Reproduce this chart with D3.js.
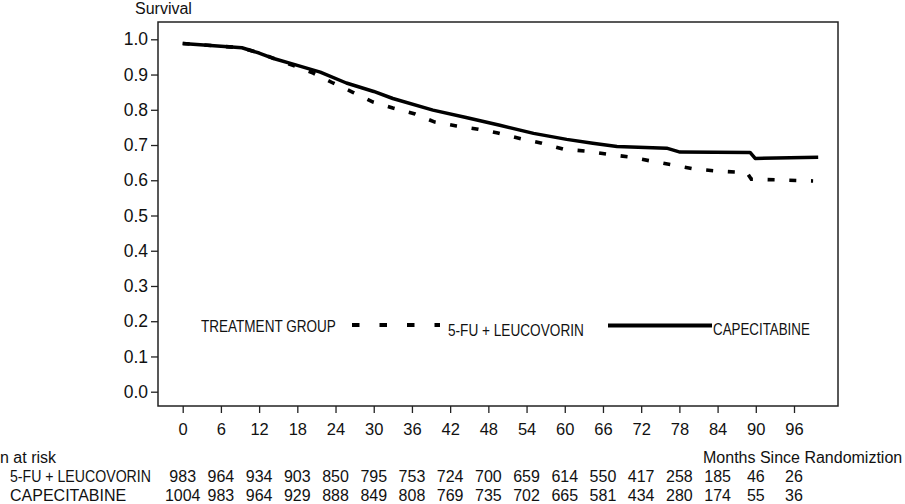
<!DOCTYPE html>
<html>
<head>
<meta charset="utf-8">
<script src="https://cdn.jsdelivr.net/npm/d3@7"></script>
<style>
	body { margin: 0; background: white; }
	svg { display: block; font-family: "Liberation Sans", Arial, sans-serif; }
</style>
</head>
<body>
<div id="container"></div>
<script>
// tick labels
const monthTicks = [0, 6, 12, 18, 24, 30, 36, 42, 48, 54, 60, 66, 72, 78, 84, 90, 96];
const survTicks = [0, 0.1, 0.2, 0.3, 0.4, 0.5, 0.6, 0.7, 0.8, 0.9, 1.0];

// capecitabine curve (solid)
const capMonths = [0, 9.3, 12, 14, 18, 21.6, 25.7, 30, 33, 39.3, 44.5, 49.8, 55.1, 60.3, 64.4, 68.2, 76, 78.1, 89.1, 89.9, 99.8];
const capSurv   = [0.988, 0.976, 0.961, 0.947, 0.926, 0.907, 0.876, 0.852, 0.832, 0.799, 0.778, 0.756, 0.733, 0.716, 0.705, 0.696, 0.691, 0.680, 0.679, 0.662, 0.665];

// 5-FU + leucovorin curve (dashed)
const fuMonths = [0, 9.3, 12, 14, 17.3, 20.5, 23.6, 26.8, 29.9, 33, 36.5, 39.6, 43, 46.4, 49.5, 53.3, 56.4, 59.8, 63.2, 66.6, 70.2, 73.7, 77, 80.4, 83.9, 87.2, 88.6, 89.3, 93.8, 99];
const fuSurv   = [0.988, 0.976, 0.961, 0.948, 0.926, 0.904, 0.876, 0.849, 0.822, 0.805, 0.788, 0.765, 0.754, 0.745, 0.734, 0.717, 0.705, 0.688, 0.683, 0.674, 0.666, 0.654, 0.643, 0.632, 0.626, 0.623, 0.622, 0.603, 0.601, 0.598];

// number at risk
const riskGroups = ['5-FU + LEUCOVORIN', 'CAPECITABINE'];
const riskFu  = [983, 964, 934, 903, 850, 795, 753, 724, 700, 659, 614, 550, 417, 258, 185, 46, 26];
const riskCap = [1004, 983, 964, 929, 888, 849, 808, 769, 735, 702, 665, 581, 434, 280, 174, 55, 36];

const W = 905, H = 504;
const BOX = {left: 158, top: 22, right: 838, bottom: 406};

const svg = d3.select('#container').append('svg')
	.attr('width', W)
	.attr('height', H);

const x = d3.scaleLinear().domain([0, 96]).range([182.7, 794]);
const y = d3.scaleLinear().domain([0, 1]).range([391.7, 39.3]);

// frame
svg.append('rect')
	.attr('x', BOX.left)
	.attr('y', BOX.top)
	.attr('width', BOX.right - BOX.left)
	.attr('height', BOX.bottom - BOX.top)
	.attr('fill', 'none')
	.attr('stroke', '#222')
	.attr('stroke-width', 1.5);

const yAxis = svg.append('g')
	.attr('transform', `translate(${BOX.left},0)`)
	.call(d3.axisLeft(y).tickValues(survTicks).tickFormat(d3.format('.1f')).tickSize(7).tickPadding(3));
const xAxis = svg.append('g')
	.attr('transform', `translate(0,${BOX.bottom})`)
	.call(d3.axisBottom(x).tickValues(monthTicks).tickSize(7).tickPadding(10));

[xAxis, yAxis].forEach(ax => {
	ax.select('.domain').remove();
	ax.selectAll('.tick line').attr('stroke', '#222').attr('stroke-width', 1.3);
	ax.selectAll('.tick text')
		.attr('fill', '#111')
		.style('font-family', '"Liberation Sans", Arial, sans-serif');
});
xAxis.selectAll('.tick text').style('font-size', '16.5px');
yAxis.selectAll('.tick text').style('font-size', '17.5px');

svg.append('text')
	.attr('x', 135)
	.attr('y', 14)
	.style('font-size', '16px')
	.attr('fill', '#111')
	.text('Survival');

// curves
const line = d3.line().x(d => x(d[0])).y(d => y(d[1]));

svg.append('path')
	.datum(d3.zip(fuMonths, fuSurv))
	.attr('d', line)
	.attr('fill', 'none')
	.attr('stroke', '#000')
	.attr('stroke-width', 3.6)
	.attr('stroke-dasharray', '7,14.7');

svg.append('path')
	.datum(d3.zip(capMonths, capSurv))
	.attr('d', line)
	.attr('fill', 'none')
	.attr('stroke', '#000')
	.attr('stroke-width', 3.5)
	.attr('stroke-linejoin', 'round');

// the original uses a narrow face: squeeze regular glyphs horizontally to the same width
function narrowText(g, tx, ty, str, width, size) {
	const t = g.append('text')
		.style('font-size', size + 'px')
		.attr('fill', '#111')
		.text(str);
	const k = width / t.node().getComputedTextLength();
	t.attr('transform', `translate(${tx},${ty}) scale(${k},1)`);
	return t;
}

// legend
const legend = svg.append('g');
narrowText(legend, 201, 332, 'TREATMENT GROUP', 135, 16.5);
legend.append('line')
	.attr('x1', 352).attr('x2', 440).attr('y1', 325).attr('y2', 325)
	.attr('stroke', '#000').attr('stroke-width', 4)
	.attr('stroke-dasharray', '7.5,20');
narrowText(legend, 448, 336, riskGroups[0], 136, 17);
legend.append('line')
	.attr('x1', 608).attr('x2', 712).attr('y1', 325.5).attr('y2', 325.5)
	.attr('stroke', '#000').attr('stroke-width', 4);
narrowText(legend, 713, 335, riskGroups[1], 97, 17);

// number at risk table
svg.append('text')
	.attr('x', 0).attr('y', 463)
	.style('font-size', '16px').attr('fill', '#111')
	.text('n at risk');
svg.append('text')
	.attr('x', 703).attr('y', 463)
	.style('font-size', '16px').attr('fill', '#111')
	.text('Months Since Randomiztion');

narrowText(svg, 10, 482, riskGroups[0], 141, 16.5);
svg.append('text')
	.attr('x', 10).attr('y', 501)
	.style('font-size', '16px').attr('fill', '#111')
	.text(riskGroups[1]);

const rows = [riskFu, riskCap];
const rowBase = [481.5, 501];
rows.forEach((vals, i) => {
	svg.append('g').selectAll('text')
		.data(vals)
		.join('text')
		.attr('x', (d, j) => x(monthTicks[j]))
		.attr('y', rowBase[i])
		.attr('text-anchor', 'middle')
		.style('font-size', '16px')
		.attr('fill', '#111')
		.text(d => d);
});
</script>
</body>
</html>
